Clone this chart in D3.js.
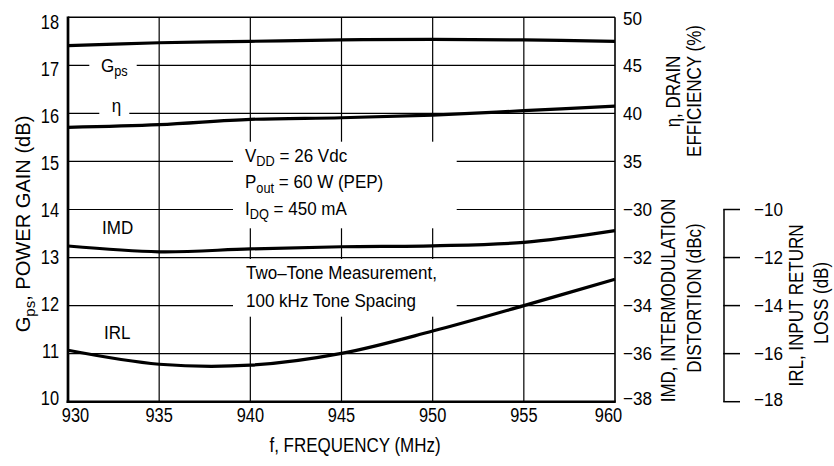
<!DOCTYPE html>
<html><head><meta charset="utf-8">
<script src="https://cdn.jsdelivr.net/npm/d3@7"></script>
<style>html,body{margin:0;padding:0;background:#fff;} svg{display:block;}</style>
</head><body>
<svg id="chart" width="834" height="466"></svg>
<script>
// ---- data ----
const freqMHz = [930, 935, 940, 945, 950, 955, 960];
const gpsDb   = [17.41, 17.47, 17.50, 17.53, 17.54, 17.53, 17.50];
const effPct  = [38.55, 38.83, 39.38, 39.55, 39.83, 40.28, 40.76];
const imdDbc  = [-31.52, -31.76, -31.64, -31.55, -31.51, -31.37, -30.88];
const irlDb   = [-15.86, -16.44, -16.48, -15.99, -15.06, -14.00, -12.90];

const freqTicks = [930, 935, 940, 945, 950, 955, 960];
const gainTicks = [10, 11, 12, 13, 14, 15, 16, 17, 18];
const effTicks  = [35, 40, 45, 50];
const imdTicks  = [-38, -36, -34, -32, -30];
const irlTicks  = [-18, -16, -14, -12, -10];

// ---- layout ----
const FONT = "'Liberation Sans', Arial, Helvetica, sans-serif";
const L = 68, R = 615, TOP = 17.3, BOT = 401.7;
const svg = d3.select('#chart');

const x    = d3.scaleLinear().domain([930, 960]).range([L, R]);
const yG   = d3.scaleLinear().domain([10, 18]).range([BOT, TOP]);
const yEff = d3.scaleLinear().domain([10, 50]).range([BOT, TOP]);
const yImd = d3.scaleLinear().domain([-38, -22]).range([BOT, TOP]);
const yIrl = d3.scaleLinear().domain([-18, -2]).range([BOT, TOP]);
const yLab = d3.scaleLinear().domain([10, 18]).range([397.5, 22]);

const minus = v => (v < 0 ? '\u2212' + Math.abs(v) : String(v));

function T(px, py, parts, o) {
  o = Object.assign({size: 18.5, sx: 0.92, anchor: 'start', rot: 0}, o || {});
  const t = svg.append('text')
    .attr('transform', `translate(${px},${py}) rotate(${o.rot}) scale(${o.sx},1)`)
    .attr('font-size', o.size).attr('text-anchor', o.anchor)
    .attr('font-family', FONT).attr('fill', '#000');
  if (typeof parts === 'string') parts = [[parts]];
  let inSub = false;
  const off = o.size * 0.24;
  parts.forEach(p => {
    const sub = !!p[1];
    const ts = t.append('tspan').text(p[0]);
    if (sub) { ts.attr('font-size', o.size * 0.75); if (!inSub) ts.attr('dy', off); }
    else if (inSub) ts.attr('dy', -off);
    inSub = sub;
  });
  return t;
}

// ---- grid ----
const grid = svg.append('g').attr('stroke', '#000').attr('stroke-width', 1.2);
grid.selectAll('.vg').data(freqTicks.slice(1, -1)).join('line')
  .attr('x1', d => x(d)).attr('x2', d => x(d)).attr('y1', TOP).attr('y2', BOT);
grid.selectAll('.hg').data(gainTicks.slice(1, -1)).join('line')
  .attr('x1', L).attr('x2', R).attr('y1', d => yG(d)).attr('y2', d => yG(d));

// ---- white masks behind labels ----
const masks = [
  [89.3, 58, 136.7, 73],    // Gps label
  [99.3, 107, 129.3, 119],  // eta label
  [233, 141.7, 456.7, 228.3],
  [233, 259, 456.7, 316.7]
];
svg.append('g').selectAll('rect').data(masks).join('rect')
  .attr('x', d => d[0]).attr('y', d => d[1])
  .attr('width', d => d[2] - d[0]).attr('height', d => d[3] - d[1])
  .attr('fill', '#fff');

// ---- curves ----
const curve = d3.curveCatmullRom.alpha(0.5);
function drawSeries(vals, ys) {
  const line = d3.line().x((d, i) => x(freqMHz[i])).y(d => ys(d)).curve(curve);
  svg.append('path').datum(vals).attr('d', line)
    .attr('fill', 'none').attr('stroke', '#000').attr('stroke-width', 3.2)
    .attr('stroke-linecap', 'butt');
}
drawSeries(gpsDb, yG);
drawSeries(effPct, yEff);
drawSeries(imdDbc, yImd);
drawSeries(irlDb, yIrl);

// ---- frame ----
svg.append('line').attr('x1', L).attr('x2', R).attr('y1', TOP).attr('y2', TOP)
  .attr('stroke', '#000').attr('stroke-width', 1.4);
svg.append('line').attr('x1', R).attr('x2', R).attr('y1', TOP).attr('y2', BOT)
  .attr('stroke', '#000').attr('stroke-width', 1.6);
svg.append('line').attr('x1', L).attr('x2', L).attr('y1', TOP - 0.7).attr('y2', BOT + 1.3)
  .attr('stroke', '#000').attr('stroke-width', 2.7);
svg.append('line').attr('x1', L - 1.35).attr('x2', R + 0.8).attr('y1', BOT).attr('y2', BOT)
  .attr('stroke', '#000').attr('stroke-width', 2.6);

// IRL separate axis
const irlX = 724;
svg.append('line').attr('x1', irlX).attr('x2', irlX)
  .attr('y1', yIrl(-10)).attr('y2', yIrl(-18)).attr('stroke', '#000').attr('stroke-width', 1.5);
svg.selectAll('.irlt').data(irlTicks).join('line')
  .attr('x1', irlX - 0.75).attr('x2', 740).attr('y1', d => yIrl(d)).attr('y2', d => yIrl(d))
  .attr('stroke', '#000').attr('stroke-width', 1.5);

// ---- tick labels ----
gainTicks.forEach(v => T(59, yLab(v) + 7.3, String(v), {size: 20.5, sx: 0.8, anchor: 'end'}));
freqTicks.forEach(v => {
  const dx = v === 930 ? 7.5 : (v === 960 ? -6.5 : 0);
  T(x(v) + dx, 422, String(v), {size: 20.5, sx: 0.8, anchor: 'middle'});
});
effTicks.forEach(v => T(623, yEff(v) + 6.8 + (v === 50 ? 1 : 0), String(v), {size: 19, sx: 0.9}));
imdTicks.forEach(v => T(623, yImd(v) + 6.8 + (v === -38 ? -3.5 : 0), minus(v), {size: 19, sx: 0.9}));
irlTicks.forEach(v => T(754, yIrl(v) + 6.8 + (v === -18 ? -2.5 : 0), minus(v), {size: 19, sx: 0.9}));

// ---- axis titles ----
T(30, 224, [['G'], ['ps', 1], [', POWER GAIN (dB)']], {size: 20.5, sx: 0.98, anchor: 'middle', rot: -90});
T(355, 452, 'f, FREQUENCY (MHz)', {size: 19.5, sx: 0.87, anchor: 'middle'});
T(680, 91.5, '\u03B7, DRAIN', {size: 20, sx: 0.85, anchor: 'middle', rot: -90});
T(701, 91, 'EFFICIENCY (%)', {size: 20, sx: 0.85, anchor: 'middle', rot: -90});
T(675, 300.5, 'IMD, INTERMODULATION', {size: 20, sx: 0.85, anchor: 'middle', rot: -90});
T(700.5, 298, 'DISTORTION (dBc)', {size: 20, sx: 0.85, anchor: 'middle', rot: -90});
T(803, 305.5, 'IRL, INPUT RETURN', {size: 20, sx: 0.85, anchor: 'middle', rot: -90});
T(828, 303, 'LOSS (dB)', {size: 20, sx: 0.85, anchor: 'middle', rot: -90});

// ---- in-plot labels ----
T(101, 71.5, [['G'], ['ps', 1]]);
T(116.5, 111.7, '\u03B7', {anchor: 'middle'});
T(102, 233.5, 'IMD');
T(104, 338.5, 'IRL');
T(245, 161.7, [['V'], ['DD', 1], [' = 26 Vdc']]);
T(245, 188.3, [['P'], ['out', 1], [' = 60 W (PEP)']]);
T(245, 215, [['I'], ['DQ', 1], [' = 450 mA']]);
T(246, 279, 'Two\u2013Tone Measurement,');
T(246, 306.5, '100 kHz Tone Spacing');
</script>
</body></html>
